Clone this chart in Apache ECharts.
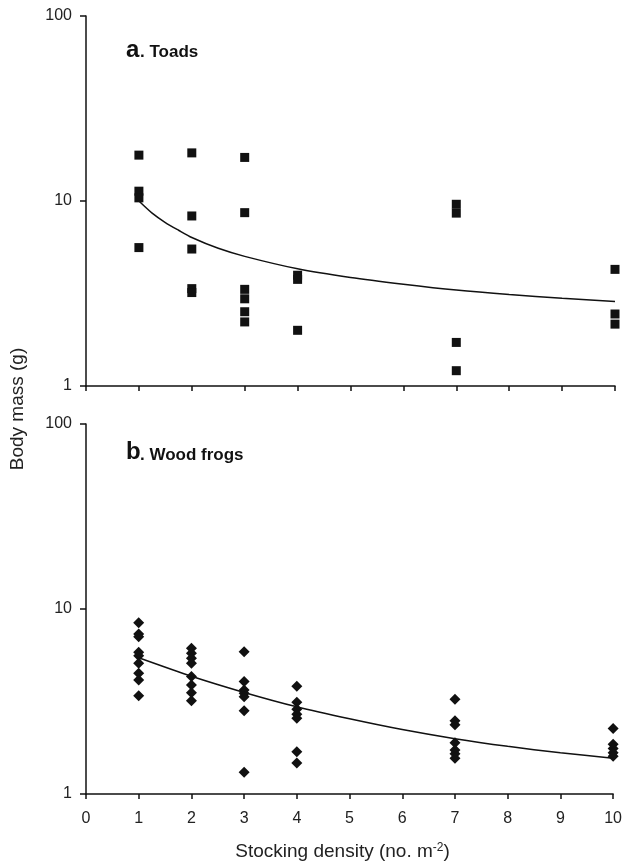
<!DOCTYPE html>
<html>
<head>
<meta charset="utf-8">
<script src="https://cdn.jsdelivr.net/npm/echarts@6/dist/echarts.min.js"></script>
<style>
html,body{margin:0;padding:0;background:#fff;}
#chart{width:625px;height:862px;}
</style>
</head>
<body>
<div id="chart"></div>
<script>
// ---- data ----
const toadX = [1,1,1,1, 2,2,2,2,2, 3,3,3,3,3,3, 4,4,4, 7,7,7,7, 10,10,10];
const toadY = [17.7,11.3,10.4,5.6, 18.2,8.3,5.5,3.36,3.2, 17.2,8.65,3.33,2.96,2.52,2.22, 3.97,3.77,2.0, 9.6,8.6,1.72,1.21, 4.27,2.45,2.16];

const frogX = [1,1,1,1,1,1,1,1,1, 2,2,2,2,2,2,2,2, 3,3,3,3,3,3,3, 4,4,4,4,4,4,4, 7,7,7,7,7,7,7, 10,10,10,10,10];
const frogY = [8.43,7.32,7.08,5.83,5.59,5.09,4.49,4.13,3.40,
               6.13,5.76,5.41,5.09,4.31,3.88,3.53,3.19,
               5.88,4.05,3.65,3.5,3.35,2.82,1.31,
               3.82,3.13,2.87,2.7,2.57,1.69,1.47,
               3.25,2.49,2.37,1.89,1.73,1.65,1.56,
               2.26,1.86,1.76,1.67,1.6];

// fitted curves
const toadFitX = [1,1.25,1.5,1.75,2,2.5,3,4,5,6,7,8,9,10];
const toadFit  = [10.0,8.6,7.65,6.95,6.35,5.55,5.02,4.3,3.86,3.55,3.3,3.12,2.98,2.86];
const frogFitX = [1,2,3,4,5,6,7,8,9,10];
const frogFit  = [5.45,4.33,3.54,2.96,2.55,2.23,1.99,1.81,1.67,1.56];

const panelLetters = ['a', 'b'];
const panelNames = ['. Toads', '. Wood frogs'];
const xTitle = 'Stocking density (no. m{sup|-2})';
const yTitle = 'Body mass (g)';

// ---- chart ----
const FONT = '"Liberation Sans", Arial, Helvetica, sans-serif';
const zip = (xs, ys) => xs.map((x, i) => [x, ys[i]]);

const chart = echarts.init(document.getElementById('chart'), null, {renderer: 'canvas'});

function xAxisDef(gi, showLabels) {
  return {
    type: 'value', gridIndex: gi, min: 0, max: 10, interval: 1,
    axisLine: {lineStyle: {color: '#111', width: 1.5}},
    axisTick: {show: true, inside: false, length: 5, lineStyle: {color: '#111', width: 1.5}},
    axisLabel: {show: showLabels, margin: 17, fontSize: 16, color: '#222', fontFamily: FONT},
    splitLine: {show: false},
    name: showLabels ? xTitle : '',
    nameLocation: 'middle', nameGap: 48,
    nameTextStyle: {fontSize: 19, color: '#222', fontFamily: FONT, padding: [0, 14, 0, 0],
      rich: {sup: {fontSize: 12, verticalAlign: 'top', color: '#222', fontFamily: FONT}}}
  };
}
function yAxisDef(gi) {
  return {
    type: 'log', logBase: 10, gridIndex: gi, min: 1, max: 100,
    axisLine: {show: true, lineStyle: {color: '#111', width: 1.5}},
    axisTick: {show: true, inside: false, length: 6, lineStyle: {color: '#111', width: 1.5}},
    minorTick: {show: false},
    axisLabel: {margin: 14, fontSize: 16, color: '#222', fontFamily: FONT,
      formatter: v => String(v)},
    splitLine: {show: false}
  };
}

const option = {
  animation: false,
  backgroundColor: '#fff',
  grid: [
    {left: 86, top: 16, width: 529, height: 370},
    {left: 86, top: 424, width: 529, height: 370}
  ],
  xAxis: [xAxisDef(0, false), xAxisDef(1, true)],
  yAxis: [yAxisDef(0), yAxisDef(1)],
  graphic: [
    {type: 'text', left: 126, top: 38, style: {text: panelLetters[0], font: 'bold 24px ' + FONT, fill: '#111'}},
    {type: 'text', left: 140, top: 44, style: {text: panelNames[0], font: 'bold 17px ' + FONT, fill: '#111'}},
    {type: 'text', left: 126, top: 440, style: {text: panelLetters[1], font: 'bold 24px ' + FONT, fill: '#111'}},
    {type: 'text', left: 140, top: 447, style: {text: panelNames[1], font: 'bold 17px ' + FONT, fill: '#111'}},
    {type: 'text', x: 18, y: 409, rotation: Math.PI / 2,
      style: {text: yTitle, font: '19px ' + FONT, fill: '#222', align: 'center', verticalAlign: 'middle'}}
  ],
  series: [
    {type: 'scatter', xAxisIndex: 0, yAxisIndex: 0, data: zip(toadX, toadY),
      symbol: 'rect', symbolSize: 9, itemStyle: {color: '#111', opacity: 1}},
    {type: 'line', xAxisIndex: 0, yAxisIndex: 0, data: zip(toadFitX, toadFit),
      smooth: 0.25, showSymbol: false, lineStyle: {color: '#111', width: 1.5}},
    {type: 'scatter', xAxisIndex: 1, yAxisIndex: 1, data: zip(frogX, frogY),
      symbol: 'diamond', symbolSize: 11, itemStyle: {color: '#111', opacity: 1}},
    {type: 'line', xAxisIndex: 1, yAxisIndex: 1, data: zip(frogFitX, frogFit),
      smooth: 0.25, showSymbol: false, lineStyle: {color: '#111', width: 1.5}}
  ]
};
chart.setOption(option);
</script>
</body>
</html>
